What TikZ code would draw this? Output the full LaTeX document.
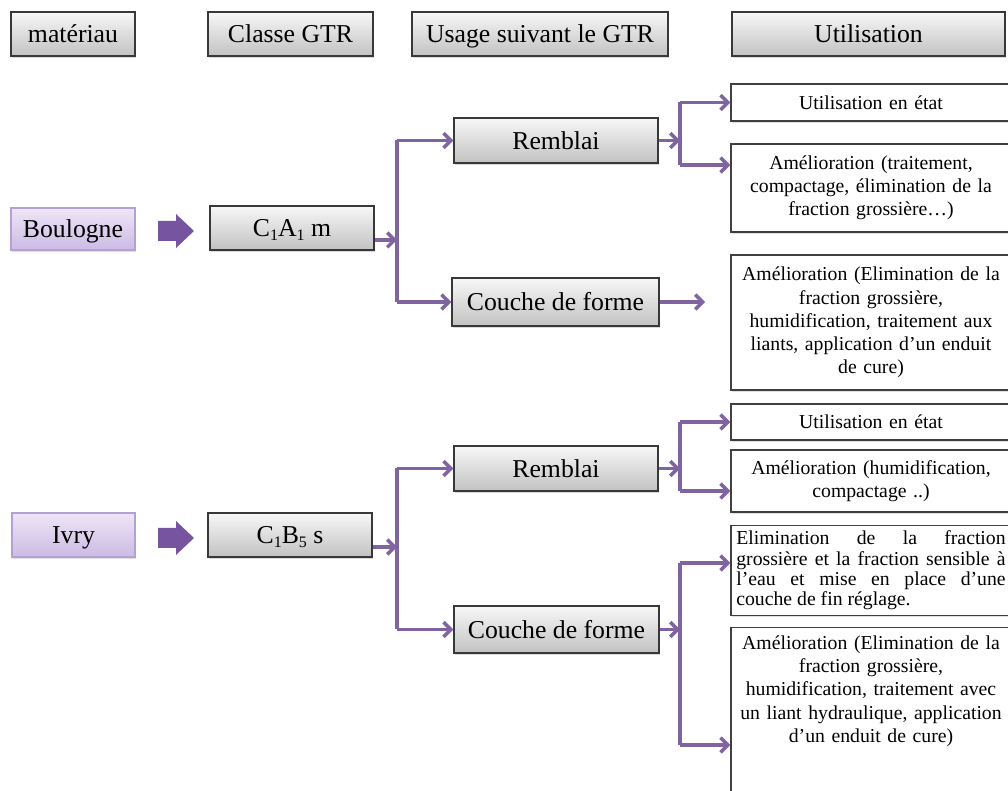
\documentclass[tikz,border=0pt]{standalone}
\usepackage{fontspec}
\setmainfont{Liberation Serif}
\usetikzlibrary{arrows.meta,shadows}
\definecolor{purp}{RGB}{128,100,162}
\definecolor{blockpurp}{RGB}{118,84,160}
\definecolor{lavtop}{RGB}{238,230,247}
\definecolor{lavbot}{RGB}{204,186,228}
\definecolor{lavdraw}{RGB}{180,160,210}
\newcommand\BigTxt{\fontsize{19.3}{23}\selectfont}
\newcommand\SmallTxt{\fontsize{14.8}{17.4}\selectfont\hyphenpenalty=10000\relax}
\newcommand\TightTxt{\fontsize{14.8}{15.2}\selectfont\hyphenpenalty=10000\relax}
\newcommand\sbs[1]{\raisebox{-0.35ex}{\fontsize{12}{12}\selectfont #1}}
\begin{document}
\begin{tikzpicture}[x=0.75pt,y=-0.75pt,
  graybox/.style={draw=black!78, line width=1pt, top color=black!3, bottom color=black!24,
    inner sep=0pt, font=\BigTxt, text height=12.8pt, text depth=0pt,
    drop shadow={shadow xshift=1pt,shadow yshift=-1.5pt,opacity=0.3}},
  lavbox/.style={draw=lavdraw, line width=1pt, top color=lavtop, bottom color=lavbot,
    inner sep=0pt, font=\BigTxt, text height=12.8pt, text depth=0pt,
    drop shadow={shadow xshift=1pt,shadow yshift=-1.5pt,opacity=0.25}},
  outbox/.style={draw=black!75, line width=1.1pt, fill=white, inner sep=0pt,
    minimum width=210pt, text width=200pt, align=center, font=\SmallTxt,
    drop shadow={shadow xshift=0.8pt,shadow yshift=-1.2pt,opacity=0.25}},
  blockarrow/.style={fill=blockpurp, draw=none},
  conn/.style={draw=purp, line width=2.6pt},
  arr/.style={conn, -{Straight Barb[length=5.5pt,width=11pt]}},
]
\useasboundingbox (0,0) rectangle (1008,791);
\clip (0,0) rectangle (1008,791);

% headers
\node[graybox, minimum width=93pt, minimum height=33pt] (mat) at (73,34) {matériau};
\node[graybox, minimum width=123.75pt, minimum height=33pt] (classe) at (290.5,34) {Classe GTR};
\node[graybox, minimum width=192pt, minimum height=33pt] (usage) at (540,34) {Usage suivant le GTR};
\node[graybox, minimum width=204.75pt, minimum height=33pt] (utilh) at (868.5,34) {Utilisation};

% Boulogne branch
\node[lavbox, minimum width=93pt, minimum height=31.5pt] (boul) at (73,229) {Boulogne};
\path[blockarrow] (158,221) -- (176,221) -- (176,214) -- (194,231) -- (176,248) -- (176,241) -- (158,241) -- cycle;
\node[graybox, minimum width=123pt, minimum height=33pt] (c1) at (292,228) {C\sbs{1}A\sbs{1} m};
\node[graybox, minimum width=153pt, minimum height=33.75pt] (remb1) at (556,140.5) {Remblai};
\node[graybox, minimum width=155.25pt, minimum height=36pt] (couche1) at (555.5,302) {Couche de forme};
\node[outbox, minimum height=27.75pt] (u1) at (871,102.5) {Utilisation en état};
\node[outbox, minimum height=66pt] (a1) at (871,188) {Amélioration (traitement,\\ compactage, élimination de la\\ fraction grossière…)};
\node[outbox, minimum height=101.25pt] (a2) at (871,322.5) {Amélioration (Elimination de la\\ fraction grossière,\\ humidification, traitement aux\\ liants, application d’un enduit\\ de cure)};

% Ivry branch
\node[lavbox, minimum width=92.25pt, minimum height=33pt] (ivry) at (73.5,535) {Ivry};
\path[blockarrow] (158,528) -- (176,528) -- (176,521) -- (194,538) -- (176,555) -- (176,548) -- (158,548) -- cycle;
\node[graybox, minimum width=123pt, minimum height=33pt] (c2) at (290,535) {C\sbs{1}B\sbs{5} s};
\node[graybox, minimum width=153pt, minimum height=33.75pt] (remb2) at (556,468.5) {Remblai};
\node[graybox, minimum width=153.75pt, minimum height=35.25pt] (couche2) at (556.5,629.5) {Couche de forme};
\node[outbox, minimum height=27pt] (u2) at (871,422) {Utilisation en état};
\node[outbox, minimum height=46.5pt] (a3) at (871,481) {Amélioration (humidification,\\ compactage ..)};
\node[outbox, anchor=north, inner ysep=4pt, text width=202pt, align=justify, font=\TightTxt] (e1) at (871,525) {Elimination de la fraction\linebreak grossière et la fraction sensible à\linebreak l’eau et mise en place d’une\linebreak couche de fin réglage.};
\node[outbox, anchor=north, inner ysep=6pt, text width=204pt] (a4) at (871,627) {Amélioration (Elimination de la\\ fraction grossière,\\ humidification, traitement avec\\ un liant hydraulique, application\\ d’un enduit de cure)\\[40pt]\mbox{}};

% junction coordinates
\coordinate (j1) at (397,240);
\coordinate (j1t) at (397,140.5);
\coordinate (j1b) at (397,302);
\coordinate (k1) at (680,140.5);
\coordinate (k1t) at (680,102.5);
\coordinate (k1b) at (680,165);
\coordinate (f1) at (705,302);

\coordinate (j2) at (397,547);
\coordinate (j2t) at (397,468.5);
\coordinate (j2b) at (397,629.5);
\coordinate (k2) at (680,468.5);
\coordinate (k2t) at (680,422);
\coordinate (k2b) at (680,491);
\coordinate (k3) at (680,629.5);
\coordinate (k3t) at (680,563);
\coordinate (k3b) at (680,745);

% connectors upper
\draw[arr] (c1.east |- j1) -- (j1);
\draw[conn] (j1t) -- (j1b);
\draw[arr] (j1t) -- (remb1.west);
\draw[arr] (j1b) -- (couche1.west);
\draw[arr] (remb1.east) -- (k1);
\draw[conn] (k1t) -- (k1b);
\draw[arr] (k1t) -- (u1.west);
\draw[arr] (k1b) -- (a1.west |- k1b);
\draw[arr] (couche1.east) -- (f1);

% connectors lower
\draw[arr] (c2.east |- j2) -- (j2);
\draw[conn] (j2t) -- (j2b);
\draw[arr] (j2t) -- (remb2.west);
\draw[arr] (j2b) -- (couche2.west);
\draw[arr] (remb2.east) -- (k2);
\draw[conn] (k2t) -- (k2b);
\draw[arr] (k2t) -- (u2.west);
\draw[arr] (k2b) -- (a3.west |- k2b);
\draw[arr] (couche2.east) -- (k3);
\draw[conn] (k3t) -- (k3b);
\draw[arr] (k3t) -- (e1.west |- k3t);
\draw[arr] (k3b) -- (a4.west |- k3b);
\end{tikzpicture}
\end{document}
